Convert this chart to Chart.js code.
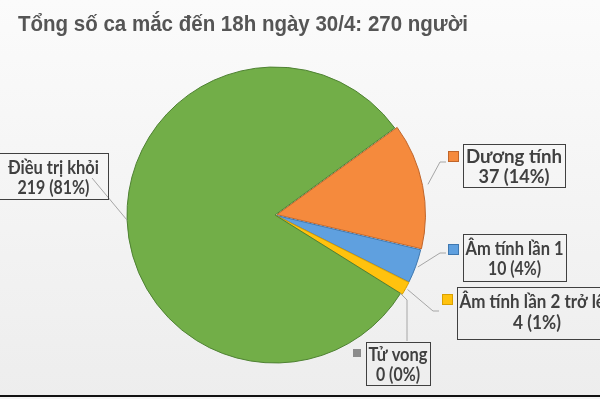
<!DOCTYPE html>
<html>
<head>
<meta charset="utf-8">
<script src="https://cdn.jsdelivr.net/npm/chart.js@4.4.1/dist/chart.umd.min.js"></script>
<style>
  html, body { margin: 0; padding: 0; background: #f6f6f6; }
  #wrap { width: 600px; height: 399px; position: relative; }
</style>
</head>
<body>
<div id="wrap"><canvas id="c" width="600" height="399"></canvas></div>
<script>
// ---- data ----
const titleText = 'Tổng số ca mắc đến 18h ngày 30/4: 270 người';
const categories = ['Dương tính', 'Âm tính lần 1', 'Âm tính lần 2 trở lên', 'Tử vong', 'Điều trị khỏi'];
const values = [37, 10, 4, 0, 219];
const percentLabels = ['14%', '4%', '1%', '0%', '81%'];
const sliceColors = ['#F58A3D', '#5FA0DF', '#FFC20E', '#8C8C8C', '#72AE48'];
const sliceBorders = ['#C0652A', '#3F78B0', '#D9A000', '#6F6F6F', '#4F8233'];
const explode = [8, 4, 4, 0, 0];

// ---- label layout (positions only) ----
const labelBoxes = [
  {x: 463, y: 144, w: 102, h: 43, l1: 157, l2: 177, w1: 96, w2: 71, marker: {x: 448, y: 151, s: 11}, leader: [[440, 162], [446, 162]]},
  {x: 463, y: 234, w: 103, h: 47, l1: 249, l2: 269, w1: 98, w2: 53, marker: {x: 448, y: 244, s: 11}, leader: [[440, 253], [446, 253]]},
  {x: 457, y: 287, w: 160, h: 52, l1: 302, l2: 323, w1: 155, w2: 48, marker: {x: 442, y: 294, s: 11}, leader: [[433, 311], [439, 311]]},
  {x: 366, y: 342, w: 64, h: 43, l1: 355, l2: 375, w1: 59, w2: 44, marker: {x: 353, y: 349, s: 8}, leader: [[407, 300], [407, 341]]},
  {x: -1, y: 153, w: 109, h: 46, l1: 168, l2: 188, w1: 91, w2: 72, marker: null, leader: [[92, 178]]}
];

const bgPlugin = {
  id: 'bg',
  beforeDraw(chart) {
    const ctx = chart.ctx;
    const g = ctx.createLinearGradient(0, 0, 0, 399);
    g.addColorStop(0, '#fbfbfb');
    g.addColorStop(1, '#ededed');
    ctx.save();
    ctx.fillStyle = g;
    ctx.fillRect(0, 0, 600, 399);
    ctx.fillStyle = '#111';
    ctx.fillRect(0, 395, 600, 2);
    ctx.fillStyle = '#f4f4f4';
    ctx.fillRect(0, 397, 600, 2);
    // title
    ctx.fillStyle = '#555555';
    ctx.font = 'bold 22px "Liberation Sans"';
    ctx.textAlign = 'left';
    ctx.textBaseline = 'alphabetic';
    ctx.fillText(titleText, 18, 31, 450);
    ctx.restore();
  }
};

const calloutPlugin = {
  id: 'callouts',
  afterDatasetsDraw(chart) {
    const ctx = chart.ctx;
    const meta = chart.getDatasetMeta(0);
    ctx.save();
    meta.data.forEach((arc, i) => {
      const p = arc.getProps(['x', 'y', 'startAngle', 'endAngle', 'outerRadius']);
      const mid = (p.startAngle + p.endAngle) / 2;
      const r = p.outerRadius + explode[i];
      const sx = p.x + Math.cos(mid) * r;
      const sy = p.y + Math.sin(mid) * r;
      const b = labelBoxes[i];
      // leader
      ctx.strokeStyle = '#a6a6a6';
      ctx.lineWidth = 1;
      ctx.beginPath();
      ctx.moveTo(sx, sy);
      b.leader.forEach(pt => ctx.lineTo(pt[0], pt[1]));
      ctx.stroke();
      // box
      ctx.strokeStyle = '#404040';
      ctx.lineWidth = 1;
      ctx.strokeRect(Math.round(b.x) + 0.5, Math.round(b.y) + 0.5, b.w, b.h);
      // marker
      if (b.marker) {
        ctx.fillStyle = sliceColors[i];
        ctx.fillRect(b.marker.x, b.marker.y, b.marker.s, b.marker.s);
        if (i !== 3) {
          ctx.strokeStyle = sliceBorders[i];
          ctx.strokeRect(b.marker.x + 0.5, b.marker.y + 0.5, b.marker.s - 1, b.marker.s - 1);
        }
      }
      // text
      ctx.fillStyle = '#404040';
      ctx.font = 'bold 19px Lato';
      ctx.textAlign = 'center';
      ctx.textBaseline = 'middle';
      const cx = b.x + b.w / 2;
      ctx.fillText(categories[i], cx, b.l1, b.w1);
      ctx.fillText(values[i] + ' (' + percentLabels[i] + ')', cx, b.l2, b.w2);
    });
    ctx.restore();
  }
};

new Chart(document.getElementById('c'), {
  type: 'pie',
  data: {
    labels: categories,
    datasets: [{
      data: values,
      backgroundColor: sliceColors,
      borderColor: sliceBorders,
      borderWidth: 1,
      offset: explode
    }]
  },
  options: {
    responsive: false,
    animation: false,
    events: [],
    rotation: 54,
    radius: 148,
    layout: { padding: { left: 17, right: 67, top: 36, bottom: 5 } },
    plugins: {
      legend: { display: false },
      tooltip: { enabled: false },
      title: { display: false }
    }
  },
  plugins: [bgPlugin, calloutPlugin]
});
</script>
</body>
</html>
